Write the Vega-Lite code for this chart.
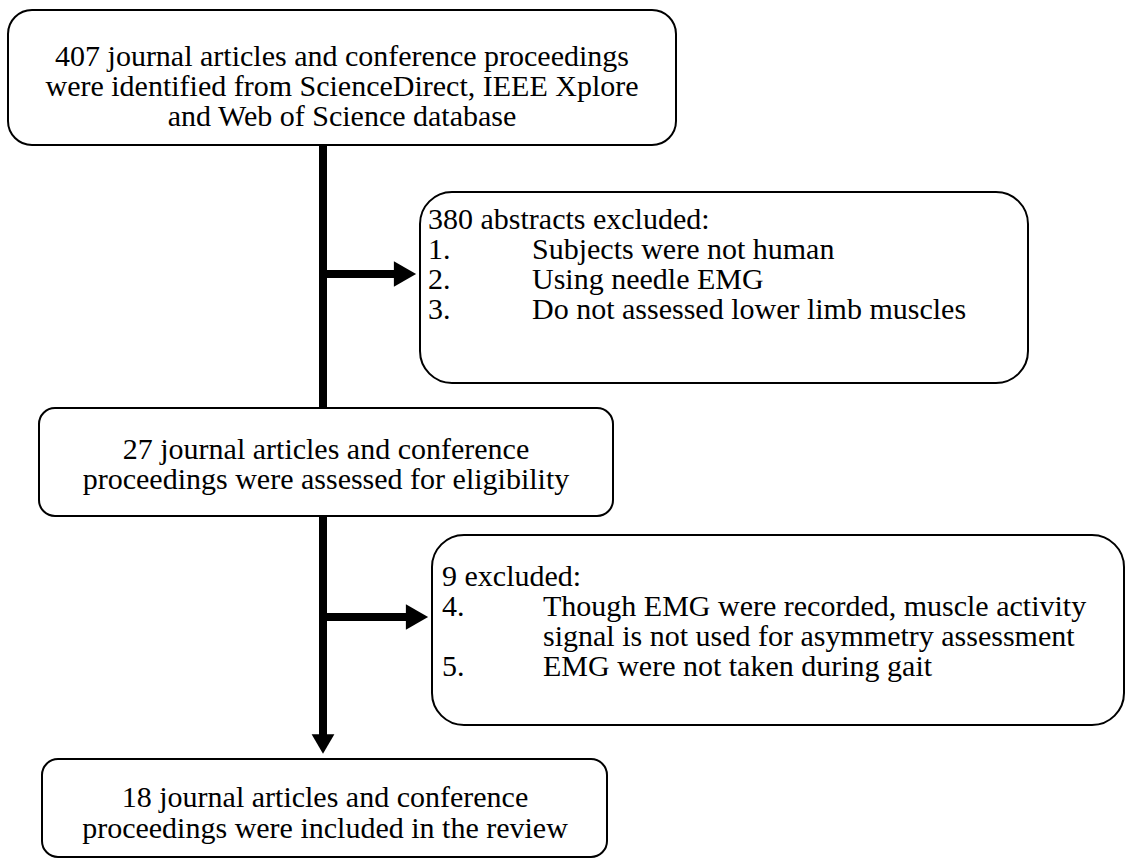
{
  "$schema": "https://vega.github.io/schema/vega-lite/v6.json",
  "width": 1126,
  "height": 860,
  "padding": 0,
  "autosize": {"type": "none"},
  "background": "white",
  "config": {"view": {"stroke": null}},
  "datasets": {
    "boxes": [
      {"id": 1, "x1": 8, "x2": 676, "y1": 10, "y2": 145},
      {"id": 2, "x1": 420, "x2": 1028, "y1": 192, "y2": 383},
      {"id": 3, "x1": 39, "x2": 613, "y1": 408, "y2": 516},
      {"id": 4, "x1": 432, "x2": 1124, "y1": 535, "y2": 725},
      {"id": 5, "x1": 42, "x2": 607, "y1": 759, "y2": 857}
    ],
    "links": [
      {"x1": 323, "y1": 145, "x2": 323, "y2": 408},
      {"x1": 323, "y1": 516, "x2": 323, "y2": 746},
      {"x1": 323, "y1": 274, "x2": 402, "y2": 274},
      {"x1": 323, "y1": 617, "x2": 413, "y2": 617}
    ],
    "heads": [
      {"dir": "right", "x": 405, "y": 274},
      {"dir": "right", "x": 417, "y": 617},
      {"dir": "down", "x": 323, "y": 744}
    ],
    "labels": [
      {"kind": "c", "x": 342, "y": 57, "text": "407 journal articles and conference proceedings"},
      {"kind": "c", "x": 342, "y": 87, "text": "were identified from ScienceDirect, IEEE Xplore"},
      {"kind": "c", "x": 342, "y": 117, "text": "and Web of Science database"},
      {"kind": "l", "x": 428, "y": 220, "text": "380 abstracts excluded:"},
      {"kind": "l", "x": 428, "y": 250, "text": "1."},
      {"kind": "l", "x": 532, "y": 250, "text": "Subjects were not human"},
      {"kind": "l", "x": 428, "y": 280, "text": "2."},
      {"kind": "l", "x": 532, "y": 280, "text": "Using needle EMG"},
      {"kind": "l", "x": 428, "y": 310, "text": "3."},
      {"kind": "l", "x": 532, "y": 310, "text": "Do not assessed lower limb muscles"},
      {"kind": "c", "x": 326, "y": 450, "text": "27 journal articles and conference"},
      {"kind": "c", "x": 326, "y": 480, "text": "proceedings were assessed for eligibility"},
      {"kind": "l", "x": 442, "y": 577, "text": "9 excluded:"},
      {"kind": "l", "x": 442, "y": 607, "text": "4."},
      {"kind": "l", "x": 543, "y": 607, "text": "Though EMG were recorded, muscle activity"},
      {"kind": "l", "x": 543, "y": 637, "text": "signal is not used for asymmetry assessment"},
      {"kind": "l", "x": 442, "y": 667, "text": "5."},
      {"kind": "l", "x": 543, "y": 667, "text": "EMG were not taken during gait"},
      {"kind": "c", "x": 325, "y": 798, "text": "18 journal articles and conference"},
      {"kind": "c", "x": 325, "y": 829, "text": "proceedings were included in the review"}
    ]
  },
  "layer": [
    {
      "data": {"name": "boxes"},
      "transform": [{"filter": "datum.id == 1"}],
      "mark": {"type": "rect", "fill": "white", "stroke": "black", "strokeWidth": 2, "cornerRadius": 24},
      "encoding": {
        "x": {"field": "x1", "type": "quantitative", "scale": {"domain": [0, 1126], "nice": false, "zero": false}, "axis": null},
        "x2": {"field": "x2"},
        "y": {"field": "y1", "type": "quantitative", "scale": {"domain": [0, 860], "nice": false, "zero": false, "reverse": true}, "axis": null},
        "y2": {"field": "y2"}
      }
    },
    {
      "data": {"name": "boxes"},
      "transform": [{"filter": "datum.id == 2 || datum.id == 4"}],
      "mark": {"type": "rect", "fill": "white", "stroke": "black", "strokeWidth": 2, "cornerRadius": 32},
      "encoding": {
        "x": {"field": "x1", "type": "quantitative", "axis": null},
        "x2": {"field": "x2"},
        "y": {"field": "y1", "type": "quantitative", "axis": null},
        "y2": {"field": "y2"}
      }
    },
    {
      "data": {"name": "boxes"},
      "transform": [{"filter": "datum.id == 3 || datum.id == 5"}],
      "mark": {"type": "rect", "fill": "white", "stroke": "black", "strokeWidth": 2, "cornerRadius": 16},
      "encoding": {
        "x": {"field": "x1", "type": "quantitative", "axis": null},
        "x2": {"field": "x2"},
        "y": {"field": "y1", "type": "quantitative", "axis": null},
        "y2": {"field": "y2"}
      }
    },
    {
      "data": {"name": "links"},
      "mark": {"type": "rule", "color": "black", "strokeWidth": 8, "strokeCap": "butt"},
      "encoding": {
        "x": {"field": "x1", "type": "quantitative", "axis": null},
        "x2": {"field": "x2"},
        "y": {"field": "y1", "type": "quantitative", "axis": null},
        "y2": {"field": "y2"}
      }
    },
    {
      "data": {"name": "heads"},
      "transform": [{"filter": "datum.dir == 'right'"}],
      "mark": {"type": "point", "shape": "triangle-right", "filled": true, "color": "black", "opacity": 1, "size": 660},
      "encoding": {
        "x": {"field": "x", "type": "quantitative", "axis": null},
        "y": {"field": "y", "type": "quantitative", "axis": null}
      }
    },
    {
      "data": {"name": "heads"},
      "transform": [{"filter": "datum.dir == 'down'"}],
      "mark": {"type": "point", "shape": "triangle-down", "filled": true, "color": "black", "opacity": 1, "size": 520},
      "encoding": {
        "x": {"field": "x", "type": "quantitative", "axis": null},
        "y": {"field": "y", "type": "quantitative", "axis": null}
      }
    },
    {
      "data": {"name": "labels"},
      "transform": [{"filter": "datum.kind == 'c'"}],
      "mark": {"type": "text", "font": "Liberation Serif", "fontSize": 30, "align": "center", "baseline": "middle", "color": "black"},
      "encoding": {
        "x": {"field": "x", "type": "quantitative", "axis": null},
        "y": {"field": "y", "type": "quantitative", "axis": null},
        "text": {"field": "text"}
      }
    },
    {
      "data": {"name": "labels"},
      "transform": [{"filter": "datum.kind == 'l'"}],
      "mark": {"type": "text", "font": "Liberation Serif", "fontSize": 30, "align": "left", "baseline": "middle", "color": "black"},
      "encoding": {
        "x": {"field": "x", "type": "quantitative", "axis": null},
        "y": {"field": "y", "type": "quantitative", "axis": null},
        "text": {"field": "text"}
      }
    }
  ]
}
